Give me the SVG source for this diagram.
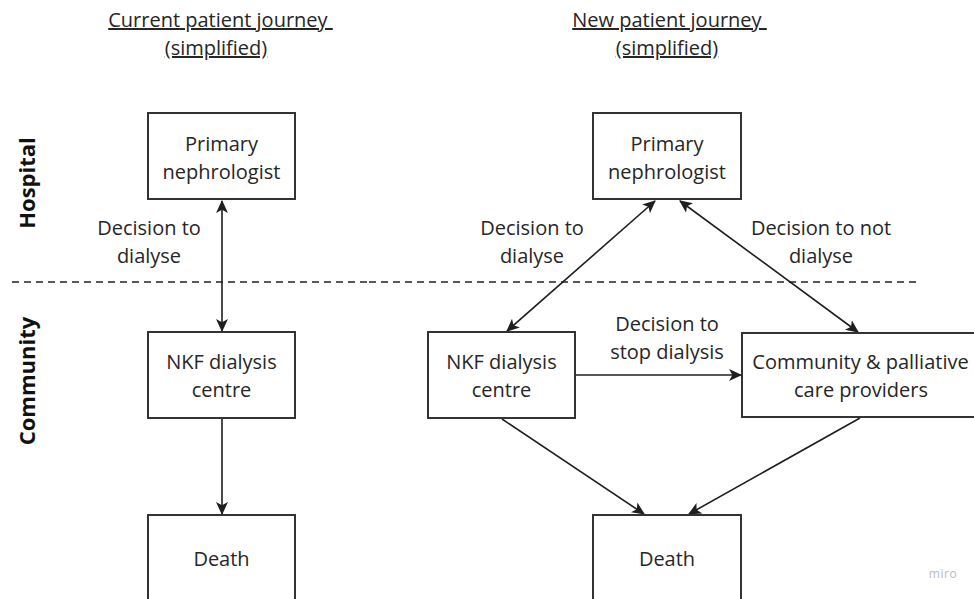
<svg xmlns="http://www.w3.org/2000/svg" width="974" height="599" viewBox="0 0 974 599">
<defs>
<style>
text{font-family:"Open Sans","Noto Sans","Liberation Sans",sans-serif;fill:#262626;font-size:20px;text-anchor:middle}
.box{fill:#fff;stroke:#333;stroke-width:2}
.conn{stroke:#1f1f1f;stroke-width:1.6;fill:none}
.dash{stroke:#222;stroke-width:1.4;stroke-dasharray:7 5;fill:none}
.title{text-decoration:underline;text-decoration-skip-ink:none;white-space:pre}
.lane{font-weight:bold;font-size:22px;fill:#111}
</style>
<marker id="ah" viewBox="0 0 12 12" markerWidth="13" markerHeight="13" refX="11" refY="6" orient="auto-start-reverse" markerUnits="userSpaceOnUse">
<path d="M0,0.5 L12,6 L0,11.5 L3,6 z" fill="#1f1f1f"/>
</marker>
</defs>
<rect width="974" height="599" fill="#fff"/>

<g id="titles">
<text class="title" x="220.5" y="27">Current patient journey </text>
<text class="title" x="216" y="55">(simplified)</text>
<text class="title" x="669.5" y="27">New patient journey </text>
<text class="title" x="667" y="55">(simplified)</text>
</g>

<g id="lanes">
<text class="lane" transform="translate(35,183) rotate(-90)">Hospital</text>
<text class="lane" transform="translate(35,381) rotate(-90)">Community</text>
<path class="dash" d="M12,282 H367"/>
<path class="dash" d="M369,282 H916"/>
</g>

<g id="connectors">
<path class="conn" d="M222,201 V331" marker-start="url(#ah)" marker-end="url(#ah)"/>
<path class="conn" d="M222,419 V514" marker-end="url(#ah)"/>
<path class="conn" d="M655,201 L507,331" marker-start="url(#ah)" marker-end="url(#ah)"/>
<path class="conn" d="M680,201 L858,332" marker-start="url(#ah)" marker-end="url(#ah)"/>
<path class="conn" d="M576,375 H741" marker-end="url(#ah)"/>
<path class="conn" d="M502,419 L644,514" marker-end="url(#ah)"/>
<path class="conn" d="M860,418 L689,514" marker-end="url(#ah)"/>
</g>

<g id="labels">
<text x="149" y="235">Decision to</text>
<text x="149" y="263">dialyse</text>
<text x="532" y="235">Decision to</text>
<text x="532" y="263">dialyse</text>
<text x="821" y="235">Decision to not</text>
<text x="821" y="263">dialyse</text>
<text x="667" y="331">Decision to</text>
<text x="667" y="359">stop dialysis</text>
</g>

<g id="cur-primary">
<rect class="box" x="148" y="113" width="147" height="86"/>
<text x="221.5" y="151">Primary</text>
<text x="221.5" y="179">nephrologist</text>
</g>
<g id="cur-nkf">
<rect class="box" x="148" y="332" width="147" height="86"/>
<text x="221.5" y="369">NKF dialysis</text>
<text x="221.5" y="397">centre</text>
</g>
<g id="cur-death">
<rect class="box" x="148" y="515" width="147" height="100"/>
<text x="221.5" y="566">Death</text>
</g>

<g id="new-primary">
<rect class="box" x="593" y="113" width="148" height="86"/>
<text x="667" y="151">Primary</text>
<text x="667" y="179">nephrologist</text>
</g>
<g id="new-nkf">
<rect class="box" x="428" y="332" width="147" height="86"/>
<text x="501.5" y="369">NKF dialysis</text>
<text x="501.5" y="397">centre</text>
</g>
<g id="new-community">
<rect class="box" x="742" y="333" width="240" height="84"/>
<text x="860.5" y="369">Community &amp; palliative</text>
<text x="861" y="397">care providers</text>
</g>
<g id="new-death">
<rect class="box" x="593" y="515" width="148" height="100"/>
<text x="667" y="566">Death</text>
</g>

<text x="943" y="578" style="font-size:12px;fill:#b8b8c4;letter-spacing:0.5px">miro</text>
</svg>
